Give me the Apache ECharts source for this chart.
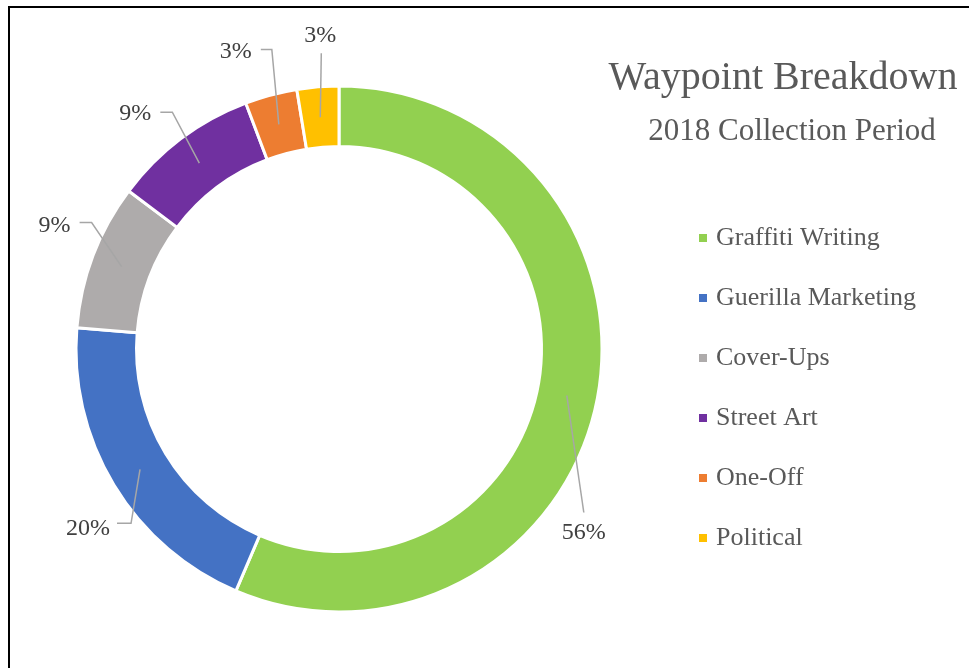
<!DOCTYPE html>
<html>
<head>
<meta charset="utf-8">
<script src="https://cdn.jsdelivr.net/npm/echarts@6/dist/echarts.min.js"></script>
<style>
html,body{margin:0;padding:0;background:#fff;}
#chart{width:969px;height:668px;}
</style>
</head>
<body>
<div id="chart"></div>
<script>
// ---- data ----
var categories = ['Graffiti Writing', 'Guerilla Marketing', 'Cover-Ups', 'Street Art', 'One-Off', 'Political'];
var counts = [88, 31, 14, 14, 5, 4];
var titleText = 'Waypoint Breakdown';
var subtitleText = '2018 Collection Period';

// ---- style ----
var colors = ['#92D050', '#4472C4', '#AEABAB', '#7030A0', '#ED7D31', '#FFC000'];
// label placement relative to the leader-line anchor: [elbow dx, elbow dy, end dx, end dy, label dx, label dy]
var labelPlacement = [
  [17, 117, 17, 117, 17, 137],
  [-9, 54, -23, 54, -52, 59],
  [-30, -44, -42, -44, -67, -41],
  [-27, -51, -39, -51, -64, -49],
  [-7, -75, -18, -75, -43, -73],
  [1, -64, 1, -64, 0, -82]
];
var serif = '"Liberation Serif", "DejaVu Serif", serif';

var pieData = categories.map(function (c, i) {
  return { name: c, value: counts[i], itemStyle: { color: colors[i] } };
});
var labelData = categories.map(function (c, i) {
  return { name: c, value: counts[i] };
});

var chart = echarts.init(document.getElementById('chart'), null, { renderer: 'canvas' });
var option = {
  backgroundColor: '#ffffff',
  animation: false,
  title: [
    { text: titleText, left: 783, top: 58, textAlign: 'center', padding: 0,
      textStyle: { fontFamily: serif, fontSize: 40, fontWeight: 'normal', color: '#595959', lineHeight: 40 } },
    { text: subtitleText, left: 792, top: 116, textAlign: 'center', padding: 0,
      textStyle: { fontFamily: serif, fontSize: 31, fontWeight: 'normal', color: '#595959', lineHeight: 31 } }
  ],
  legend: {
    orient: 'vertical',
    left: 697,
    top: 223,
    padding: 0,
    itemGap: 30,
    itemWidth: 10,
    itemHeight: 10,
    icon: 'rect',
    data: categories,
    textStyle: { fontFamily: serif, fontSize: 26, color: '#595959', lineHeight: 30, padding: [0, 0, 0, 3] }
  },
  graphic: [
    { type: 'polyline', silent: true, z: 100,
      shape: { points: [[9, 668], [9, 7], [969, 7]] },
      style: { stroke: '#000', lineWidth: 2, fill: null } }
  ],
  series: [
    {
      type: 'pie',
      name: 'ring',
      z: 2,
      center: [339, 349],
      radius: [202.5, 263],
      startAngle: 90,
      clockwise: true,
      avoidLabelOverlap: false,
      label: { show: false },
      labelLine: { show: false },
      itemStyle: { borderColor: '#ffffff', borderWidth: 3 },
      emphasis: { disabled: true },
      data: pieData
    },
    {
      type: 'pie',
      name: 'labels',
      z: 5,
      center: [339, 349],
      radius: [0, 232.5],
      startAngle: 90,
      clockwise: true,
      silent: true,
      avoidLabelOverlap: false,
      percentPrecision: 0,
      itemStyle: { color: 'rgba(0,0,0,0)' },
      emphasis: { disabled: true },
      label: {
        show: true,
        position: 'outside',
        formatter: '{d}%',
        fontFamily: serif,
        fontSize: 24,
        color: '#404040'
      },
      labelLine: { show: true, length: 20, length2: 10, lineStyle: { color: '#A6A6A6', width: 1.5 } },
      labelLayout: function (params) {
        var pts = params.labelLinePoints;
        if (!pts) return {};
        var a = pts[0];
        var p = labelPlacement[params.dataIndex];
        return {
          x: a[0] + p[4],
          y: a[1] + p[5],
          align: 'center',
          verticalAlign: 'middle',
          labelLinePoints: [[a[0], a[1]], [a[0] + p[0], a[1] + p[1]], [a[0] + p[2], a[1] + p[3]]]
        };
      },
      data: labelData
    }
  ]
};
chart.setOption(option);
</script>
</body>
</html>
